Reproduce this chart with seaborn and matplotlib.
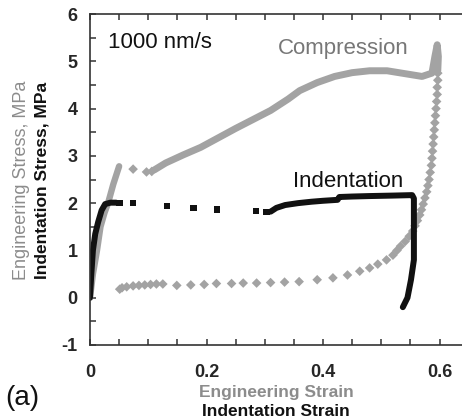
import numpy as np
import pandas as pd
import matplotlib
matplotlib.use("Agg")
import matplotlib.pyplot as plt
from matplotlib.ticker import MultipleLocator
import seaborn as sns

# compression curve (gray diamonds)
comp_load_x = [0, 0.005, 0.012, 0.018, 0.025, 0.031, 0.04, 0.05]
comp_load_y = [0, 0.5, 1.0, 1.5, 1.8, 2.0, 2.4, 2.78]
comp_gap_x = [0.074, 0.097, 0.106]
comp_gap_y = [2.72, 2.66, 2.67]
comp_rise_x = [0.11, 0.13, 0.16, 0.19, 0.22, 0.25, 0.28, 0.31, 0.34, 0.36, 0.39,
               0.42, 0.45, 0.48, 0.51, 0.54, 0.57, 0.587, 0.592, 0.596, 0.598, 0.597]
comp_rise_y = [2.7, 2.85, 3.02, 3.18, 3.38, 3.58, 3.77, 3.96, 4.2, 4.38, 4.55,
               4.68, 4.76, 4.8, 4.8, 4.74, 4.68, 4.75, 5.1, 5.35, 5.1, 4.8]
comp_unload_x = [0.597, 0.597, 0.596, 0.596, 0.595, 0.594, 0.593, 0.592, 0.591, 0.590,
                 0.589, 0.588, 0.587, 0.586, 0.584, 0.582, 0.580, 0.578, 0.575, 0.572,
                 0.569, 0.566, 0.562, 0.558, 0.554, 0.548, 0.541, 0.533, 0.527, 0.520,
                 0.509, 0.494, 0.480, 0.463, 0.442, 0.417, 0.390, 0.359, 0.334, 0.310,
                 0.286, 0.263, 0.243, 0.217, 0.196, 0.173, 0.149, 0.125, 0.114, 0.104,
                 0.094, 0.084, 0.074, 0.063, 0.055, 0.051]
comp_unload_y = [4.75, 4.6, 4.45, 4.3, 4.15, 4.0, 3.85, 3.7, 3.55, 3.4,
                 3.25, 3.1, 2.95, 2.8, 2.65, 2.5, 2.37, 2.24, 2.11, 1.98,
                 1.86, 1.75, 1.63, 1.52, 1.41, 1.3, 1.19, 1.09, 1.0, 0.9,
                 0.8, 0.71, 0.63, 0.56, 0.48, 0.42, 0.38, 0.34, 0.33, 0.32,
                 0.31, 0.31, 0.30, 0.30, 0.28, 0.27, 0.26, 0.29, 0.29, 0.28,
                 0.27, 0.26, 0.25, 0.23, 0.21, 0.18]

# indentation curve (black squares)
ind_load_x = [0, 0.002, 0.005, 0.009, 0.014, 0.02, 0.026, 0.035, 0.045]
ind_load_y = [0, 0.45, 1.0, 1.35, 1.6, 1.85, 1.98, 2.01, 2.01]
ind_gap_x = [0.051, 0.074, 0.132, 0.178, 0.218, 0.285, 0.303]
ind_gap_y = [2.0, 2.0, 1.94, 1.9, 1.87, 1.83, 1.81]
ind_rest_x = [0.31, 0.32, 0.335, 0.357, 0.38, 0.40, 0.425, 0.428, 0.45, 0.48, 0.52,
              0.553, 0.556, 0.556, 0.556, 0.551, 0.545, 0.537, 0.530]
ind_rest_y = [1.82, 1.9, 1.96, 2.0, 2.03, 2.05, 2.07, 2.13, 2.14, 2.15, 2.16,
              2.17, 2.1, 1.3, 0.8, 0.38, 0.0, -0.2]
ind_rest_x = ind_rest_x[:len(ind_rest_y)]

xticks = [0, 0.2, 0.4, 0.6]
xtick_labels = ["0", "0.2", "0.4", "0.6"]
yticks = [-1, 0, 1, 2, 3, 4, 5, 6]
ytick_labels = ["-1", "0", "1", "2", "3", "4", "5", "6"]

GRAY = "#a3a3a3"
BLACK = "#111111"

sns.set_style("ticks")
plt.rcParams["font.family"] = ["Liberation Sans", "DejaVu Sans"]
plt.rcParams["axes.unicode_minus"] = False

fig = plt.figure(figsize=(4.62, 4.2), dpi=100)
ax = fig.add_axes([0.1948, 0.1786, 0.807, 0.788])

# compression
sns.lineplot(x=comp_load_x, y=comp_load_y, sort=False, estimator=None,
             color=GRAY, linewidth=4.6, ax=ax)
sns.scatterplot(x=comp_gap_x, y=comp_gap_y, marker="D", s=24, color=GRAY,
                edgecolor="none", ax=ax)
sns.lineplot(x=comp_rise_x, y=comp_rise_y, sort=False, estimator=None,
             color=GRAY, linewidth=5.0, ax=ax)
sns.scatterplot(x=comp_unload_x, y=comp_unload_y, marker="D", s=24, color=GRAY,
                edgecolor="none", ax=ax)

# indentation
sns.lineplot(x=ind_load_x, y=ind_load_y, sort=False, estimator=None,
             color=BLACK, linewidth=4.3, ax=ax)
sns.scatterplot(x=ind_gap_x, y=ind_gap_y, marker="s", s=22, color=BLACK,
                edgecolor="none", ax=ax)
sns.lineplot(x=ind_rest_x, y=ind_rest_y, sort=False, estimator=None,
             color=BLACK, linewidth=4.3, ax=ax)

ax.set_xlim(0, 0.64)
ax.set_ylim(-1, 6)
ax.set_xticks(xticks)
ax.set_xticklabels(xtick_labels, fontsize=13, fontweight="bold")
ax.set_yticks(yticks)
ax.set_yticklabels(ytick_labels, fontsize=13, fontweight="bold")
ax.xaxis.set_minor_locator(MultipleLocator(0.05))
ax.yaxis.set_minor_locator(MultipleLocator(0.5))
ax.tick_params(which="both", direction="in", top=True, right=False,
               length=4, width=1.1, color="#333333")
ax.tick_params(axis="x", which="major", pad=14)
ax.tick_params(axis="y", which="major", pad=9)
ax.spines["right"].set_visible(False)
for s in ["left", "top", "bottom"]:
    ax.spines[s].set_color("#333333")
    ax.spines[s].set_linewidth(1.2)
ax.set_xlabel("")
ax.set_ylabel("")

ax.text(0.048, 0.915, "1000 nm/s", transform=ax.transAxes, fontsize=16,
        ha="left", va="center", color="#111111")
ax.text(0.678, 0.897, "Compression", transform=ax.transAxes, fontsize=16,
        ha="center", va="center", color="#777777")
ax.text(0.692, 0.495, "Indentation", transform=ax.transAxes, fontsize=16,
        ha="center", va="center", color="#111111")

fig.text(22 / 462, 1 - 180 / 420, "Engineering Stress, MPa", rotation=90,
         fontsize=13, color="#8c8c8c", ha="center", va="center")
fig.text(42 / 462, 1 - 180 / 420, "Indentation Stress, MPa", rotation=90,
         fontsize=12.5, fontweight="bold", color="#111111", ha="center", va="center")
fig.text(276 / 462, 1 - 392 / 420, "Engineering Strain", fontsize=12.5,
         fontweight="bold", color="#8c8c8c", ha="center", va="center")
fig.text(276 / 462, 1 - 411 / 420, "Indentation Strain", fontsize=12.5,
         fontweight="bold", color="#111111", ha="center", va="center")
fig.text(5 / 462, 1 - 398 / 420, "(a)", fontsize=20, ha="left", va="center",
         color="#111111")

fig.savefig("out.png", dpi=100)
plt.close(fig)
